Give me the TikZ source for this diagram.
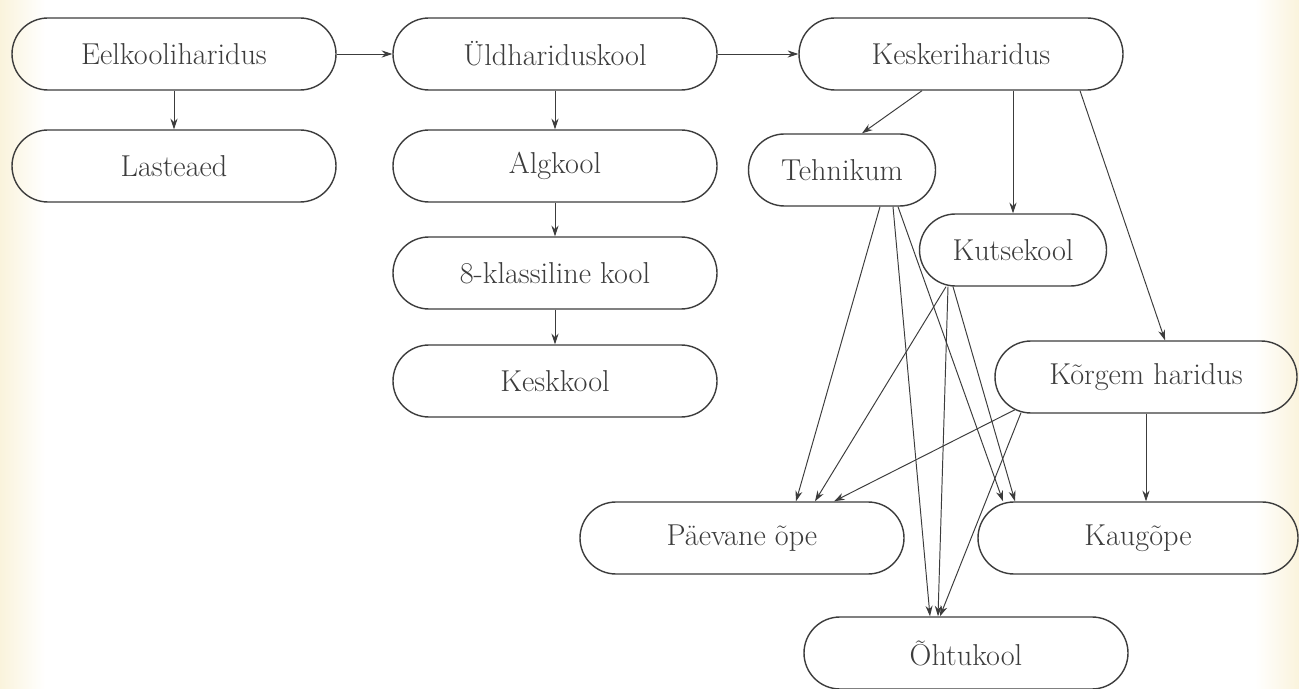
\documentclass[tikz,border=0pt]{standalone}
\usetikzlibrary{arrows.meta}
\definecolor{ink}{RGB}{60,60,60}
\definecolor{paper}{RGB}{250,243,220}
\begin{document}
\begin{tikzpicture}[>={Stealth[length=6pt,width=4pt]},
        box/.style={draw=ink, line width=0.8pt, rounded corners=0.72cm, minimum height=1.44cm, text=ink, font=\fontsize{17.2}{20}\selectfont},
        wide/.style={box, minimum width=6.48cm},
        small/.style={box, minimum width=3.74cm},
        link/.style={->, draw=ink, line width=0.55pt}]
        % paper
        \useasboundingbox (0,0) rectangle (25.98,-13.78);
        \fill[white] (0,0) rectangle (25.98,-13.78);
        \shade[left color=paper, right color=white] (0,0) rectangle (0.9,-13.78);
        \shade[left color=white, right color=paper] (25.1,0) rectangle (25.98,-13.78);

        % Preschool
        \node[wide] (eel) at (3.48,-1.08) {Eelkooliharidus};
        \node[wide] (las) at (3.48,-3.32) {Lasteaed};

        % General school
        \node[wide] (uld) at (11.1,-1.08) {Üldhariduskool};
        \node[wide] (alg) at (11.1,-3.32) {Algkool};
        \node[wide] (kla) at (11.1,-5.46) {8-klassiline kool};
        \node[wide] (kesk) at (11.1,-7.62) {Keskkool};

        % Secondary and higher
        \node[wide] (ker) at (19.22,-1.08) {Keskeriharidus};
        \node[small] (teh) at (16.84,-3.4) {Tehnikum};
        \node[small] (kut) at (20.26,-5.0) {Kutsekool};
        \node[box, minimum width=6.04cm] (kor) at (22.92,-7.54) {Kõrgem haridus};

        % Forms of study
        \node[wide] (pae) at (14.84,-10.76) {Päevane õpe};
        \node[box, minimum width=6.4cm] (kau) at (22.76,-10.76) {Kaugõpe};
        \node[wide] (oht) at (19.32,-13.06) {Õhtukool};

        % left chain
        \draw[link] (eel.south) -- (las.north);
        \draw[link] (eel.east) -- (uld.west);
        \draw[link] (uld.south) -- (alg.north);
        \draw[link] (alg.south) -- (kla.north);
        \draw[link] (kla.south) -- (kesk.north);
        \draw[link] (uld.east) -- (ker.west);

        % from Keskeriharidus
        \draw[link] ([xshift=-0.78cm]ker.south) -- ([xshift=0.4cm]teh.north);
        \draw[link] ([xshift=1.04cm]ker.south) -- (kut.north);
        \draw[link] ([xshift=2.38cm]ker.south) -- ([xshift=0.38cm]kor.north);

        % to the forms of study
        \draw[link] ([xshift=0.76cm]teh.south) -- ([xshift=1.08cm]pae.north);
        \draw[link] ([xshift=1.02cm]teh.south) -- ([xshift=-0.72cm]oht.north);
        \draw[link] ([xshift=1.12cm]teh.south) -- ([xshift=-2.7cm]kau.north);
        \draw[link] ([xshift=-1.34cm]kut.south) -- ([xshift=1.46cm]pae.north);
        \draw[link] ([xshift=-1.3cm]kut.south) -- ([xshift=-0.56cm]oht.north);
        \draw[link] ([xshift=-1.2cm]kut.south) -- ([xshift=-2.46cm]kau.north);
        \draw[link] ([xshift=-2.62cm,yshift=0.08cm]kor.south) -- ([xshift=1.84cm]pae.north);
        \draw[link] ([xshift=-2.5cm,yshift=0.02cm]kor.south) -- ([xshift=-0.52cm]oht.north);
        \draw[link] (kor.south) -- (kor.south |- kau.north);
\end{tikzpicture}
\end{document}
